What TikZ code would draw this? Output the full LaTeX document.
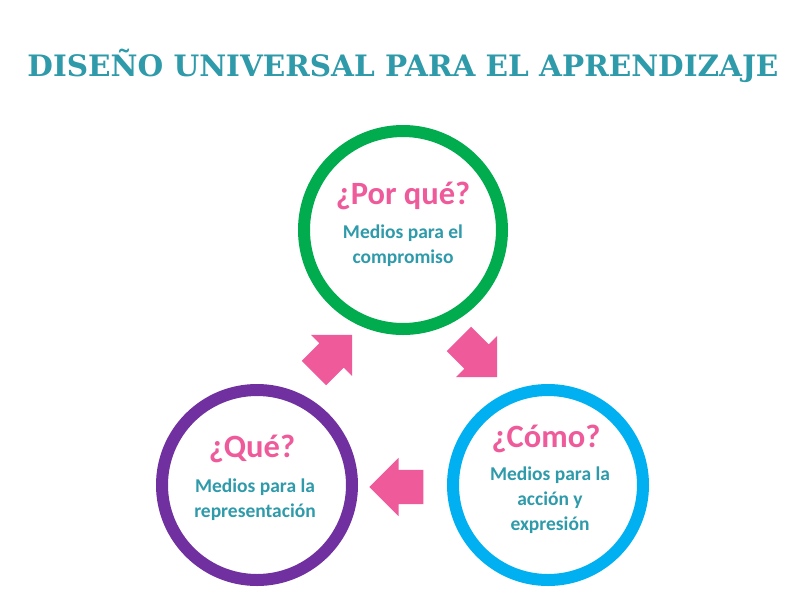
\documentclass[tikz,border=0pt]{standalone}
\usepackage{fontspec}
\setmainfont{Carlito}
\usetikzlibrary{shapes.arrows}
\definecolor{teal1}{HTML}{2E9AAA}
\definecolor{pinkA}{HTML}{EF5A9B}
\definecolor{greenC}{HTML}{00AC4E}
\definecolor{purpleC}{HTML}{7030A0}
\definecolor{blueC}{HTML}{00B0F0}
\tikzset{
  ring/.style={circle,line width=12pt,fill=white},
  q/.style={text=pinkA,font=\bfseries\fontsize{32.5}{36}\selectfont},
  body/.style={text=teal1,font=\bfseries\fontsize{19.5}{25}\selectfont,align=center},
  blk/.style={single arrow,fill=pinkA,minimum height=54pt,single arrow head extend=12pt,inner sep=0pt}
}
\begin{document}
\begin{tikzpicture}[x=1pt,y=-1pt]
\useasboundingbox[fill=white] (0,0) rectangle (806,598);
\node (title) at (403,66) {\textcolor{teal1}{\fontspec{DejaVu Serif}\bfseries\fontsize{29.5}{32}\selectfont DISEÑO UNIVERSAL PARA EL APRENDIZAJE}};
\draw[ring,draw=greenC] (403,230) circle (99);
\draw[ring,draw=purpleC] (257,485) circle (95);
\draw[ring,draw=blueC] (548,485) circle (95);
\node[q] (q1) at (403,196) {¿Por qué?};
\node[body] (b1) at (403,246) {Medios para el\\compromiso};
\node[q] (q2) at (252,449) {¿Qué?};
\node[body] (b2) at (255,500) {Medios para la\\representación};
\node[q] (q3) at (546,439) {¿Cómo?};
\node[body] (b3) at (550,500) {Medios para la\\acción y\\expresión};
\node[blk,rotate=45] (a1) at (327,360) {\rule{0pt}{34pt}};
\node[blk,rotate=-45] (a2) at (472,352) {\rule{0pt}{34pt}};
\node[blk,rotate=180] (a3) at (405,487) {\rule{0pt}{34pt}};
\end{tikzpicture}
\end{document}
